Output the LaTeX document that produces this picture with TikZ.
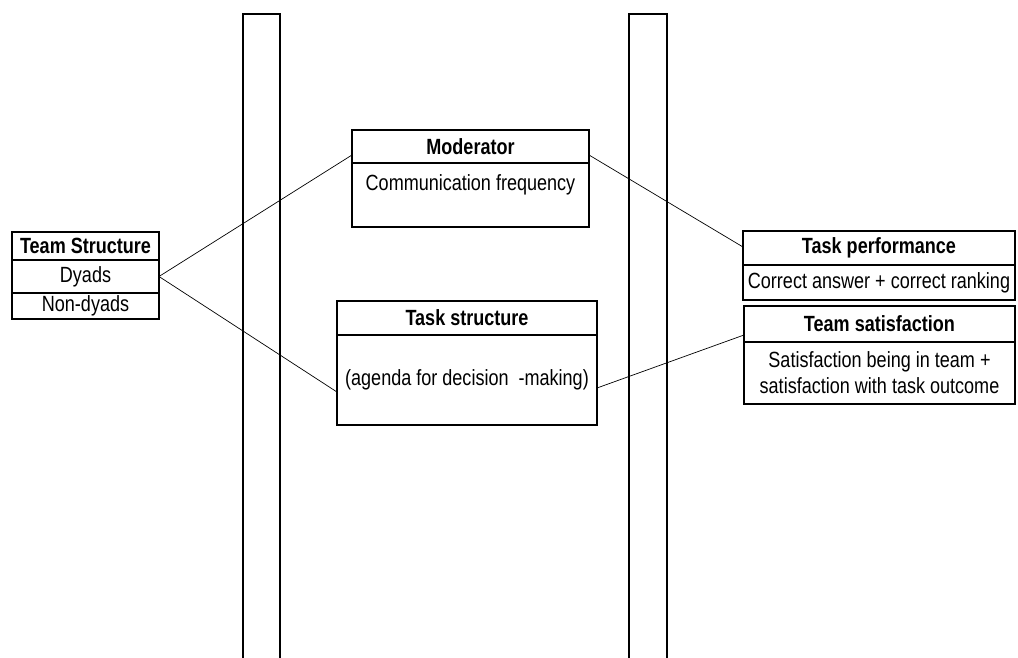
\documentclass[tikz,border=0pt]{standalone}
\usepackage{fontspec}
\setmainfont{Liberation Sans}[FakeStretch=0.82]
\begin{document}
\begin{tikzpicture}[x=1pt,y=-1pt,
  every node/.style={inner sep=0pt,outer sep=0pt,font=\fontsize{22}{26}\selectfont},
  cell/.style={draw,line width=1.5pt,anchor=north west,minimum height=#1},
  head/.style={cell=#1,font=\fontsize{22}{26}\selectfont\bfseries},
  bar/.style={draw,line width=1.8pt},
  link/.style={line width=0.7pt}]
\useasboundingbox (0,0) rectangle (1018,658);

% vertical bars
\draw[bar] (243,660) -- (243,14) -- (280,14) -- (280,660);
\draw[bar] (629,660) -- (629,14) -- (667,14) -- (667,660);

% Team Structure
\node[head=28, minimum width=147] (tsh) at (12,232) {Team Structure};
\node[cell=33, minimum width=147] (tsa) at (tsh.south west) {Dyads};
\node[cell=26, minimum width=147] (tsb) at (tsa.south west) {Non-dyads};

% Moderator
\node[head=33, minimum width=237] (mdh) at (352,130) {Moderator};
\node[cell=64, minimum width=237] (mdb) at (mdh.south west) {};
\node[anchor=north] (mdt) at ([yshift=-12]mdb.north) {Communication frequency};

% Task structure
\node[head=34, minimum width=260] (tkh) at (337,301) {Task structure};
\node[cell=90, minimum width=260] (tkb) at (tkh.south west) {(agenda for decision\ \ -making)};

% Task performance
\node[head=34, minimum width=272] (tph) at (743,231) {Task performance};
\node[cell=35, minimum width=272] (tpb) at (tph.south west) {Correct answer + correct ranking};

% Team satisfaction
\node[head=36, minimum width=271] (sah) at (744,306) {Team satisfaction};
\node[cell=62, minimum width=271, align=center] (sab) at (sah.south west)
  {Satisfaction being in team +\\satisfaction with task outcome};

% connectors
\draw[link] (tsa.east) -- ([yshift=8]mdh.south west);
\draw[link] (tsa.east) -- ([yshift=-12]tkb.west);
\draw[link] ([yshift=8]mdh.south east) -- ([yshift=18]tph.south west);
\draw[link] ([yshift=-8]tkb.east) -- ([yshift=7]sah.south west);
\end{tikzpicture}
\end{document}
